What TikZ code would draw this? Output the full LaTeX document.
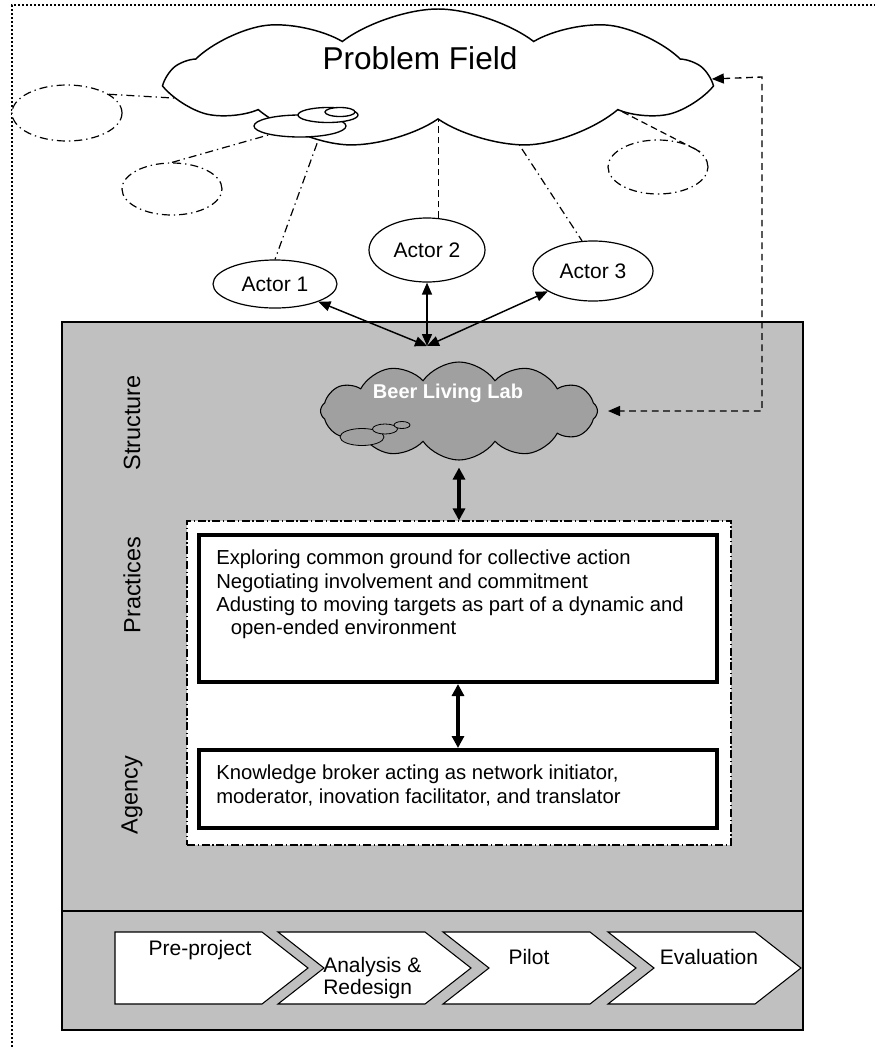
\documentclass[tikz,border=0pt]{standalone}
\usepackage{fontspec}
\setmainfont{Liberation Sans}
\usetikzlibrary{shapes.geometric, shapes.symbols, arrows.meta, positioning, calc}
\definecolor{PanelGrey}{HTML}{C0C0C0}
\definecolor{CloudGrey}{HTML}{A0A0A0}
\newcommand{\pxu}{0.75pt}
\tikzset{
    panel/.style={draw, line width=1pt, fill=PanelGrey, minimum width=741*\pxu, inner sep=0},
    actor/.style={ellipse, draw, line width=0.9pt, fill=white, inner sep=0, font=\fontsize{15.75}{18}\selectfont},
    ghost/.style={ellipse, draw, fill=white, line width=0.9pt, dash pattern=on 6pt off 3pt on 1pt off 3pt, inner sep=0},
    bubble/.style={ellipse, draw, inner sep=0},
    thickbox/.style={draw, line width=3pt, fill=white, minimum width=518*\pxu, inner sep=0},
    phasebox/.style={draw, line width=0.8pt, fill=white, line join=miter},
    tie/.style={line width=0.9pt, dash pattern=on 6pt off 3pt on 1pt off 3pt},
    tiedash/.style={line width=0.9pt, dash pattern=on 5pt off 3pt},
    link/.style={{Triangle[length=9pt,width=7.5pt]}-{Triangle[length=9pt,width=7.5pt]}, line width=1.1pt},
    biglink/.style={{Triangle[length=9pt,width=9pt]}-{Triangle[length=9pt,width=9pt]}, line width=2.4pt},
    bodytext/.style={align=left, inner sep=0, font=\fontsize{15.2}{17.5}\selectfont},
    phasetext/.style={inner sep=0, font=\fontsize{15.75}{17}\selectfont},
    sidelabel/.style={rotate=90, inner sep=0, font=\fontsize{17.6}{20}\selectfont}
}
\begin{document}
\begin{tikzpicture}[x=0.75pt, y=-0.75pt]
    \useasboundingbox (0,0) rectangle (875,1047);

    % Dotted frame
    \coordinate (fbl) at (12,1047);
    \coordinate (ftl) at (12,5);
    \coordinate (ftr) at (875,5);
    \draw[line width=1.5pt, dash pattern=on 1.5pt off 1.5pt] (fbl) -- (ftl) -- (ftr);

    % Problem field (ties first, shapes cover their ends)
    \coordinate (fp1) at (190,99);
    \coordinate (fp2) at (438,118);
    \coordinate (fp3) at (503,120);
    \coordinate (fp4) at (613,107);
    \coordinate (fb0) at (300,126);
    \coordinate (fb9) at (323,127);
    \node[ghost, minimum width=110*\pxu, minimum height=56*\pxu] (g1) at (67,113) {};
    \node[ghost, minimum width=100*\pxu, minimum height=52*\pxu] (g2) at (172,189) {};
    \node[ghost, minimum width=100*\pxu, minimum height=54*\pxu] (g3) at (658,167) {};
    \node[actor, minimum width=124*\pxu, minimum height=48*\pxu] (act1) at (275,284) {Actor 1};
    \node[actor, minimum width=116*\pxu, minimum height=64*\pxu] (act2) at (427,250) {Actor 2};
    \node[actor, minimum width=120*\pxu, minimum height=60*\pxu] (act3) at (593,271) {Actor 3};
    \draw[tie] (g1.24) -- (fp1);
    \draw[tie] (g2.north) -- (fb0);
    \draw[tie] (fb9) -- (act1.north);
    \draw[tiedash] (act2.70) -- (act2.70 |- fp2);
    \draw[tie] (fp3) -- (act3.110);
    \draw[tiedash] (fp4) -- (g3.20);

    \node[cloud, cloud puffs=9, cloud puff arc=75, aspect=4.3, draw, line width=1.1pt, fill=white,
          minimum width=535*\pxu, minimum height=140*\pxu, inner sep=0] (field) at (438,79) {};
    \node[bubble, line width=1pt, fill=white, minimum width=92*\pxu, minimum height=22*\pxu] (fb1) at (300,126) {};
    \node[bubble, line width=1pt, fill=white, minimum width=60*\pxu, minimum height=15*\pxu] (fb2) at (328,115) {};
    \node[bubble, line width=1pt, fill=white, minimum width=30*\pxu, minimum height=9*\pxu] (fb3) at (340,112) {};
    \node[font=\fontsize{23.7}{28}\selectfont] (fieldname) at (420,58) {Problem Field};

    % Living lab panels
    \node[panel, minimum height=589*\pxu] (upper) at (432.5,616.5) {};
    \node[panel, minimum height=119*\pxu] (lower) at (432.5,970.5) {};
    \node[draw, fill=white, line width=0.8pt, dash pattern=on 6pt off 2pt on 1pt off 2pt,
          minimum width=544*\pxu, minimum height=324*\pxu, inner sep=0] (frame) at (459,683) {};
    \node[thickbox, minimum height=147*\pxu] (prac) at (458,608.5) {};
    \node[thickbox, minimum height=78*\pxu] (agen) at (458,789) {};

    \node[bodytext, anchor=north west] (practext) at (216,550)
        {Exploring common ground for collective action\\
         Negotiating involvement and commitment\\
         Adusting to moving targets as part of a dynamic and\\
         \hspace*{11pt}open-ended environment};
    \node[bodytext, anchor=north west] (agentext) at (216,765)
        {Knowledge broker acting as network initiator,\\
         moderator, inovation facilitator, and translator};

    \node[sidelabel] (structure) at (132,423) {Structure};
    \node[sidelabel] (practices) at (132,585) {Practices};
    \node[sidelabel] (agency) at (132,795) {Agency};

    % Beer living lab
    \node[cloud, cloud puffs=12, cloud puff arc=110, aspect=2.8, draw, line width=0.8pt, fill=CloudGrey,
          minimum width=277*\pxu, minimum height=98*\pxu, inner sep=0] (lab) at (459,411) {};
    \node[bubble, line width=0.6pt, fill=CloudGrey, minimum width=44*\pxu, minimum height=17*\pxu] (lb1) at (362,437) {};
    \node[bubble, line width=0.6pt, fill=CloudGrey, minimum width=25*\pxu, minimum height=10*\pxu] (lb2) at (385,429) {};
    \node[bubble, line width=0.6pt, fill=CloudGrey, minimum width=16*\pxu, minimum height=7*\pxu] (lb3) at (402,425) {};
    \node[text=white, font=\bfseries\fontsize{15}{18}\selectfont] (labname) at (448,393) {Beer Living Lab};

    % Arrows
    \coordinate (hub) at (427,346);
    \draw[link] (act1) -- (hub);
    \draw[link] (act2) -- (hub);
    \draw[link] (act3) -- (hub);
    \draw[biglink, shorten <=7*\pxu] (lab.south) -- (frame.north);
    \draw[biglink] (prac.south) -- (agen.north);
    \coordinate (corner) at (762,77);
    \draw[link, line width=1pt, dash pattern=on 5pt off 3.5pt, shorten >=10*\pxu] (field.east) -- (corner) |- (lab.east);

    % Phases
    \draw[phasebox] (115,932) -- (262,932) -- (308,968) -- (262,1004) -- (115,1004) -- cycle;
    \foreach \lft in {278,443,608}
        \draw[phasebox] (\lft,932) -- ++(147,0) -- ++(46,36) -- ++(-46,36) -- ++(-147,0) -- ++(46,-36) -- cycle;
    \node[phasetext] (pre) at (200,950) {Pre-project};
    \node[phasetext, align=left, anchor=west] (ana) at (323,978) {Analysis \&\\Redesign};
    \node[phasetext] (pil) at (529,957) {Pilot};
    \node[phasetext] (eva) at (709,957) {Evaluation};
\end{tikzpicture}
\end{document}
